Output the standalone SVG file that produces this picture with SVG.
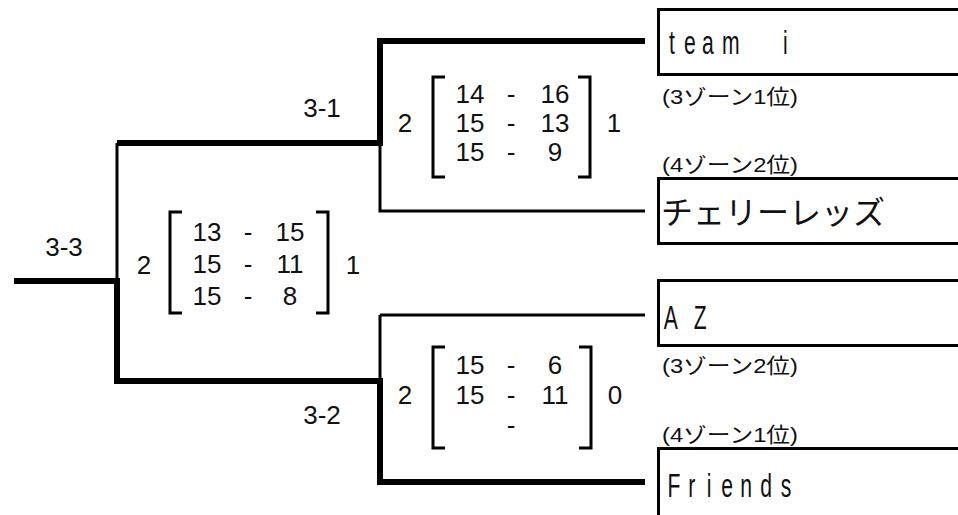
<svg xmlns="http://www.w3.org/2000/svg" width="958" height="515" viewBox="0 0 958 515">
<style>
.thick{fill:none;stroke:#000;stroke-width:6;stroke-linejoin:miter;stroke-linecap:butt}
.thin{fill:none;stroke:#000;stroke-width:3;stroke-linecap:butt}
.br{fill:none;stroke:#000;stroke-width:3;stroke-linecap:butt;stroke-linejoin:miter}
.box{fill:#fff;stroke:#000;stroke-width:3}
.num{font-family:"Liberation Sans",Arial,sans-serif;font-size:26px;fill:#111;text-anchor:middle}
.lat{font-family:"Liberation Sans",Arial,sans-serif;font-size:33px;fill:#111;text-anchor:middle}
.jp{font-family:"Noto Sans CJK JP","Noto Sans",sans-serif;font-size:32px;fill:#111}
.sub{font-family:"Liberation Sans","Noto Sans CJK JP",sans-serif;font-size:21px;fill:#111}
</style>
<rect width="958" height="515" fill="#fff"/>
<g id="connectors">
<path class="thin" d="M117,143 V281"/>
<path class="thin" d="M380,143 V211 H645"/>
<path class="thin" d="M380,315 V381 M380,315 H645"/>
<path class="thick" d="M14,281 H120"/>
<path class="thick" d="M117,281 V381 H380 V482 H645"/>
<path class="thick" d="M117,143 H380 V41 H645"/>
</g>
<g id="team-i">
<rect class="box" x="658.5" y="9.5" width="320" height="65"/>
<text class="lat" transform="translate(0,54) scale(0.64,1)" x="1050 1078 1106 1142 1190 1227">team i</text>
<text class="sub" x="662" y="104" textLength="136" lengthAdjust="spacingAndGlyphs">(3ゾーン1位)</text>
</g>
<g id="cherry-leds">
<text class="sub" x="662" y="172" textLength="136" lengthAdjust="spacingAndGlyphs">(4ゾーン2位)</text>
<rect class="box" x="658.5" y="178.5" width="320" height="65"/>
<text class="jp" x="661" y="224">チェリーレッズ</text>
</g>
<g id="az">
<rect class="box" x="658.5" y="280.5" width="320" height="65"/>
<text class="lat" transform="translate(0,329) scale(0.64,1)" x="1048 1070 1094">A Z</text>
<text class="sub" x="662" y="373" textLength="136" lengthAdjust="spacingAndGlyphs">(3ゾーン2位)</text>
</g>
<g id="friends">
<text class="sub" x="662" y="442" textLength="136" lengthAdjust="spacingAndGlyphs">(4ゾーン1位)</text>
<rect class="box" x="658.5" y="448.5" width="320" height="80"/>
<text class="lat" transform="translate(0,497) scale(0.64,1)" x="1053 1081 1108 1136 1166 1197 1228">Friends</text>
</g>
<g id="match-3-1">
<text class="num" x="322" y="117">3-1</text>
<path class="br" d="M445,77 H433 V177 H445 M578,77 H590 V177 H578"/>
<text class="num" x="405" y="132">2</text>
<text class="num" x="614" y="132">1</text>
<text class="num" x="470" y="103">14</text><text class="num" x="511" y="103">-</text><text class="num" x="555" y="103">16</text>
<text class="num" x="470" y="132">15</text><text class="num" x="511" y="132">-</text><text class="num" x="555" y="132">13</text>
<text class="num" x="470" y="161">15</text><text class="num" x="511" y="161">-</text><text class="num" x="555" y="161">9</text>
</g>
<g id="match-3-3">
<text class="num" x="64" y="256">3-3</text>
<path class="br" d="M182,212 H170 V313 H182 M316,212 H328 V313 H316"/>
<text class="num" x="144" y="274">2</text>
<text class="num" x="353" y="274">1</text>
<text class="num" x="207" y="241">13</text><text class="num" x="248" y="241">-</text><text class="num" x="290" y="241">15</text>
<text class="num" x="207" y="273">15</text><text class="num" x="248" y="273">-</text><text class="num" x="290" y="273">11</text>
<text class="num" x="207" y="305">15</text><text class="num" x="248" y="305">-</text><text class="num" x="290" y="305">8</text>
</g>
<g id="match-3-2">
<text class="num" x="322" y="424">3-2</text>
<path class="br" d="M445,347 H433 V448 H445 M579,347 H591 V448 H579"/>
<text class="num" x="405" y="404">2</text>
<text class="num" x="615" y="404">0</text>
<text class="num" x="470" y="374">15</text><text class="num" x="511" y="374">-</text><text class="num" x="555" y="374">6</text>
<text class="num" x="470" y="404">15</text><text class="num" x="511" y="404">-</text><text class="num" x="555" y="404">11</text>
<text class="num" x="511" y="434">-</text>
</g>
</svg>
